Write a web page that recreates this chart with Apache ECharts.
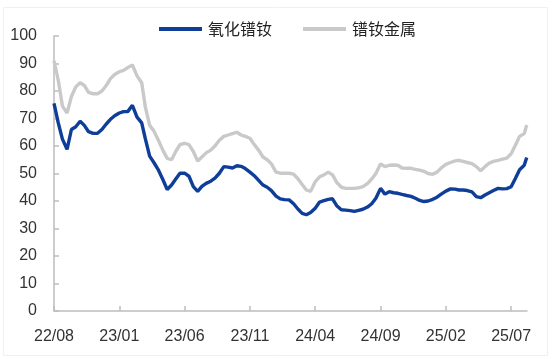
<!DOCTYPE html>
<html>
<head>
<meta charset="utf-8">
<script src="https://cdn.jsdelivr.net/npm/echarts@6/dist/echarts.min.js"></script>
<style>
html,body{margin:0;padding:0;background:#fff;}
#chart{width:553px;height:359px;}
</style>
</head>
<body>
<div id="chart"></div>
<script>
// Sample dates: 1st, 11th, 21st of each month, 2022-08 .. 2025-08
var months = [
  '2022-08','2022-09','2022-10','2022-11','2022-12',
  '2023-01','2023-02','2023-03','2023-04','2023-05','2023-06','2023-07','2023-08','2023-09','2023-10','2023-11','2023-12',
  '2024-01','2024-02','2024-03','2024-04','2024-05','2024-06','2024-07','2024-08','2024-09','2024-10','2024-11','2024-12',
  '2025-01','2025-02','2025-03','2025-04','2025-05','2025-06','2025-07'
];
var sampleDays = ['01','11','21'];
var dates = [];
months.forEach(function (m) { sampleDays.forEach(function (d) { dates.push(m + '-' + d); }); });
dates.push('2025-08-01');
dates.push('2025-08-07');

var seriesNames = ['氧化镨钕', '镨钕金属'];

// 氧化镨钕
var oxideValues = [
  75.5, 68.5, 62.5,   58.8, 66.0, 67.0,   69.0, 67.5, 65.2,   64.6, 64.6, 66.0,   68.0, 69.7, 71.0,
  72.0, 72.5, 72.5,   74.8, 70.5, 68.4,   62.5, 56.3, 54.0,   51.2, 47.8, 44.2,   45.8, 48.0, 50.1,
  50.1, 49.0, 45.2,   43.5, 45.3, 46.4,   47.2, 48.3, 50.0,   52.5, 52.3, 52.0,   52.8, 52.6, 51.8,
  50.5, 49.2, 47.5,   45.8, 45.0, 43.8,
  41.8, 40.8, 40.5,   40.4, 39.0, 37.0,   35.5, 35.0, 35.8,   37.4, 39.6, 40.1,   40.6, 40.8, 38.3,
  36.8, 36.7, 36.5,   36.2, 36.6, 37.0,   37.8, 39.0, 41.0,   44.6, 42.5, 43.4,   43.0, 42.8, 42.4,
  42.0, 41.7, 41.0,   40.2, 39.8, 40.0,
  40.6, 41.4, 42.5,   43.6, 44.4, 44.3,   44.0, 44.0, 43.8,   43.3, 41.6, 41.2,   42.2, 43.0, 43.8,
  44.6, 44.4, 44.5,   45.2, 48.2, 51.4,
  53.0, 55.8
];
// 镨钕金属
var metalValues = [
  91.0, 84.0, 74.5,   72.0, 78.0, 81.5,   83.0, 82.0, 79.5,   79.0, 79.0, 80.0,   82.0, 84.5, 86.0,
  87.0, 87.5, 88.5,   89.5, 85.5, 83.0,   74.0, 67.5, 65.5,   62.0, 58.5, 55.5,   55.0, 58.0, 60.5,
  61.0, 60.5, 58.0,   54.5, 56.0, 57.5,   58.5, 60.0, 62.0,   63.5, 64.0, 64.5,   65.0, 64.0, 63.5,
  62.8, 60.5, 58.5,   56.0, 55.0, 53.5,
  50.5, 50.1, 50.1,   50.1, 49.8, 48.0,   46.0, 44.0, 43.5,   47.0, 48.8, 49.5,   50.5, 49.5, 46.8,
  45.0, 44.6, 44.6,   44.6, 44.8, 45.2,   46.3, 48.0, 50.0,   53.5, 52.5, 53.0,   53.1, 53.0, 52.0,
  51.9, 51.9, 51.5,   51.2, 50.8, 50.0,
  49.7, 50.5, 52.0,   53.3, 54.0, 54.6,   54.8, 54.4, 54.0,   53.6, 52.5, 51.0,   52.5, 53.8, 54.4,
  54.8, 55.2, 55.6,   57.2, 60.3, 63.5,
  64.5, 67.6
];

var yTicks = [0, 10, 20, 30, 40, 50, 60, 70, 80, 90, 100];
var xTickLabels = ['22/08', '23/01', '23/06', '23/11', '24/04', '24/09', '25/02', '25/07'];

// month offset from 2022-08-01
function monthOffset(s) {
  var p = s.split('-');
  var y = +p[0], m = +p[1], d = +p[2];
  var dim = new Date(y, m, 0).getDate();
  return (y - 2022) * 12 + (m - 8) + (d - 1) / dim;
}
function labelToOffset(l) {
  var p = l.split('/');
  return (2000 + +p[0] - 2022) * 12 + (+p[1] - 8);
}
var xTickValues = xTickLabels.map(labelToOffset);
var xMax = monthOffset('2025-08-07') + 0.02;

function pairs(vals) { return dates.map(function (d, i) { return [monthOffset(d), vals[i]]; }); }

var axisColor = '#BDBDBD';
var labelStyle = { color: '#333', fontFamily: 'Liberation Sans', fontSize: 16 };

var chart = echarts.init(document.getElementById('chart'), null, { renderer: 'canvas' });
chart.setOption({
  animation: false,
  backgroundColor: '#fff',
  graphic: [{
    type: 'rect', left: 1, top: 5, shape: { width: 544, height: 348 },
    style: { fill: 'none', stroke: '#F0F0F0', lineWidth: 1 }, silent: true, z: -1
  }],
  legend: {
    left: 154, top: 16,
    itemWidth: 43, itemHeight: 4, itemGap: 31,
    icon: 'rect',
    textStyle: { color: '#222', fontFamily: 'Noto Sans CJK SC', fontSize: 16, padding: [0, 0, 0, 1] },
    data: seriesNames
  },
  grid: { left: 54, right: 26, top: 36, bottom: 48, containLabel: false },
  xAxis: {
    type: 'value', min: 0, max: xMax,
    splitLine: { show: false },
    axisLine: { show: true, lineStyle: { color: axisColor, width: 1.5 } },
    axisTick: { show: true, inside: true, length: 5, lineStyle: { color: axisColor, width: 1.5 }, customValues: xTickValues },
    axisLabel: Object.assign({
      margin: 18,
      customValues: xTickValues,
      formatter: function (v) {
        var i = xTickValues.indexOf(Math.round(v));
        return i >= 0 ? xTickLabels[i] : '';
      }
    }, labelStyle)
  },
  yAxis: {
    type: 'value', min: 0, max: 100, interval: 10,
    splitLine: { show: false },
    axisLine: { show: true, lineStyle: { color: axisColor, width: 1.5 } },
    axisTick: { show: true, inside: true, length: 5, lineStyle: { color: axisColor, width: 1.5 } },
    axisLabel: Object.assign({ margin: 17, customValues: yTicks }, labelStyle)
  },
  series: [
    {
      name: seriesNames[0], type: 'line', data: pairs(oxideValues),
      showSymbol: false, symbol: 'none', z: 3,
      lineStyle: { color: '#0F3E98', width: 3.4 }, itemStyle: { color: '#0F3E98' }
    },
    {
      name: seriesNames[1], type: 'line', data: pairs(metalValues),
      showSymbol: false, symbol: 'none', z: 2,
      lineStyle: { color: '#C9C9C9', width: 3.4 }, itemStyle: { color: '#C9C9C9' }
    }
  ]
});
</script>
</body>
</html>
